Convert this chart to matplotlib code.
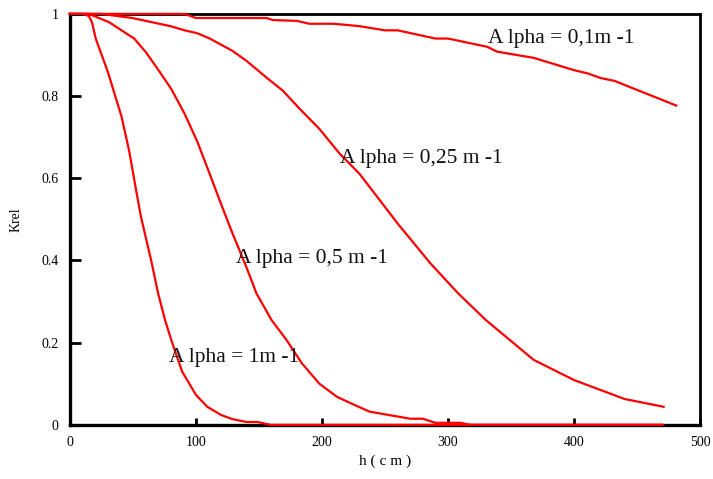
import matplotlib
matplotlib.use("Agg")
import matplotlib.pyplot as plt

plt.rcParams['font.family'] = ['Liberation Serif', 'DejaVu Serif']

# alpha = 1 m-1
h_a1 = [0, 10, 15, 17.5, 20.5, 30, 41, 47, 54, 56.5, 64.5, 70, 75.5, 80.5, 89, 100, 109, 120, 129, 140, 149, 159, 470]
k_a1 = [1, 1, 0.995, 0.98, 0.94, 0.86, 0.75, 0.667, 0.546, 0.505, 0.40, 0.32, 0.255, 0.206, 0.13, 0.073, 0.044, 0.024, 0.014, 0.007, 0.007, 0, 0]

# alpha = 0.5 m-1
h_a05 = [0, 15, 31, 51, 60.5, 71, 80.5, 91, 101, 111, 120, 129, 140, 148, 160, 172, 184, 198, 212, 229, 238, 270, 280, 290, 310, 318, 470]
k_a05 = [1, 1, 0.98, 0.94, 0.906, 0.86, 0.817, 0.757, 0.69, 0.61, 0.537, 0.466, 0.384, 0.32, 0.255, 0.206, 0.15, 0.10, 0.068, 0.044, 0.032, 0.015, 0.015, 0.005, 0.005, 0, 0]

# alpha = 0.25 m-1
h_a025 = [0, 25, 49.5, 80, 91, 101, 111, 129, 140, 156, 169, 182, 198, 214, 230, 246, 260, 286, 308, 330, 368, 400, 440, 471]
k_a025 = [1, 1, 0.99, 0.97, 0.96, 0.953, 0.94, 0.91, 0.886, 0.845, 0.813, 0.77, 0.72, 0.66, 0.61, 0.546, 0.49, 0.393, 0.32, 0.255, 0.158, 0.109, 0.063, 0.044]

# alpha = 0.1 m-1
h_a01 = [0, 91, 100, 156, 161, 180, 190, 209, 220, 230, 250, 260, 290, 300, 331, 339, 368, 400, 411, 421, 432, 481]
k_a01 = [1, 1, 0.99, 0.99, 0.985, 0.983, 0.976, 0.976, 0.973, 0.97, 0.96, 0.96, 0.94, 0.94, 0.92, 0.908, 0.893, 0.863, 0.855, 0.844, 0.837, 0.777]

labels = ["A lpha = 0,1m -1", "A lpha = 0,25 m -1", "A lpha = 0,5 m -1", "A lpha = 1m -1"]
label_pos = [(332, 0.94), (214, 0.648), (132, 0.405), (79, 0.165)]

fig = plt.figure(figsize=(7.13, 4.79), dpi=100)
ax = fig.add_axes([0.098, 0.113, 0.884, 0.858])

for h, k in [(h_a1, k_a1), (h_a05, k_a05), (h_a025, k_a025), (h_a01, k_a01)]:
    ax.plot(h, k, color='#ff0000', lw=1.6, clip_on=False, zorder=3)

for txt, (x, y) in zip(labels, label_pos):
    ax.text(x, y, txt, fontsize=15.5, va='center', ha='left', color='#111111')

ax.set_xlim(0, 500)
ax.set_ylim(0, 1)
ax.set_xticks([0, 100, 200, 300, 400, 500])
ax.set_yticks([0, 0.2, 0.4, 0.6, 0.8, 1])
ax.set_yticklabels(["0", "0.2", "0.4", "0.6", "0.8", "1"])
ax.tick_params(direction='in', length=8, width=2, labelsize=10, pad=8)
ax.tick_params(axis='x', length=5)
for s in ax.spines.values():
    s.set_linewidth(2)
ax.spines['left'].set_linewidth(2.4)
ax.spines['bottom'].set_linewidth(2.4)

ax.set_xlabel("h ( c m )", fontsize=11, labelpad=4)
ax.set_ylabel("Krel", fontsize=10, labelpad=14)

plt.savefig("out.png", dpi=100)
